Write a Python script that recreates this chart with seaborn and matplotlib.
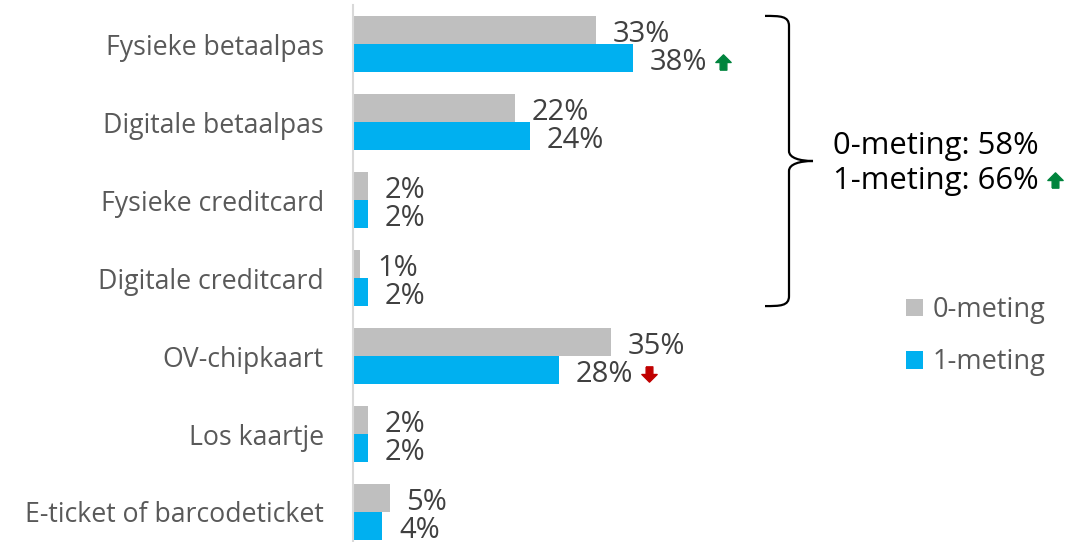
import matplotlib
matplotlib.use("Agg")
import matplotlib.pyplot as plt
import seaborn as sns
import pandas as pd
import numpy as np
from matplotlib.path import Path
from matplotlib.patches import PathPatch
from matplotlib.transforms import offset_copy

categories = ["Fysieke betaalpas", "Digitale betaalpas", "Fysieke creditcard",
              "Digitale creditcard", "OV-chipkaart", "Los kaartje",
              "E-ticket of barcodeticket"]
series_names = ["0-meting", "1-meting"]
meting0 = [33, 22, 2, 1, 35, 2, 5]
meting1 = [38, 24, 2, 2, 28, 2, 4]
# change markers on the 1-meting labels: +1 up, -1 down, 0 none
change1 = [1, 0, 0, 0, -1, 0, 0]
bracket_texts = ["0-meting: 58%", "1-meting: 66%"]
bracket_change = [0, 1]

GRAY = "#BFBFBF"
BLUE = "#00B0F0"
GREEN = "#00843D"
RED = "#C00000"

sns.set_style("white")
plt.rcParams["font.family"] = ["Open Sans", "DejaVu Sans"]

df = pd.DataFrame({
    "categorie": categories * 2,
    "waarde": meting0 + meting1,
    "meting": [series_names[0]] * len(categories) + [series_names[1]] * len(categories),
})

W, H = 1084, 542
fig = plt.figure(figsize=(W / 100, H / 100), dpi=100)
x0 = 353
px_per_pct = 7.36
ax = fig.add_axes([x0 / W, 0, 1 - x0 / W, 1])

sns.barplot(data=df, y="categorie", x="waarde", hue="meting", orient="h",
            palette=[GRAY, BLUE], width=0.72, saturation=1, linewidth=0,
            order=categories, hue_order=series_names, ax=ax)

ax.set_xlim(0, (W - x0) / px_per_pct)
ax.set_ylim(6 + 30 / 78, -44 / 78)
ax.set_xlabel("")
ax.set_ylabel("")
ax.set_xticks([])
for s in ["top", "right", "bottom"]:
    ax.spines[s].set_visible(False)
ax.spines["left"].set_color("#D9D9D9")
ax.spines["left"].set_linewidth(1.5)
ax.spines["left"].set_bounds(-0.5, 6 + 30 / 78)
ax.tick_params(axis="y", length=0, pad=21, labelsize=19.2, labelcolor="#595959")

# value labels
for ci, cont in enumerate(ax.containers[:2]):
    for bi, bar in enumerate(cont.patches):
        v = bar.get_width()
        yc = bar.get_y() + bar.get_height() / 2
        ax.annotate(f"{v:.0f}%", xy=(v, yc), xytext=(12, -3.5),
                    textcoords="offset points", ha="left", va="center",
                    fontsize=21, color="#404040")
        if ci == 1 and change1[bi] != 0:
            up = change1[bi] > 0
            tr = offset_copy(ax.transData, fig=fig, x=90, y=-4, units="dots")
            verts = [(-0.22, -0.5), (0.22, -0.5), (0.22, 0.0), (0.5, 0.0),
                     (0.0, 0.5), (-0.5, 0.0), (-0.22, 0.0), (-0.22, -0.5)]
            if not up:
                verts = [(x, -y) for x, y in verts]
            ax.plot([v], [yc], marker=verts, markersize=11, linestyle="none",
                    color=GREEN if up else RED, transform=tr, clip_on=False)

# curly bracket spanning first four categories
tr_b = ax.get_yaxis_transform()
def ax_x(px):
    return (px - x0) / (W - x0)
ytop = -0.36
ybot = 3.36
ymid = (ytop + ybot) / 2
d = 10 / 78
xl, xv, xp = ax_x(765), ax_x(789), ax_x(813)
verts = [
    (xl, ytop), (ax_x(780), ytop), (xv, ytop), (xv, ytop + d),
    (xv, ymid - d),
    (xv, ymid - 0.3 * d), (ax_x(800), ymid), (xp, ymid),
    (ax_x(800), ymid), (xv, ymid + 0.3 * d), (xv, ymid + d),
    (xv, ybot - d),
    (xv, ybot), (ax_x(780), ybot), (xl, ybot),
]
codes = [Path.MOVETO, Path.CURVE4, Path.CURVE4, Path.CURVE4,
         Path.LINETO,
         Path.CURVE4, Path.CURVE4, Path.CURVE4,
         Path.CURVE4, Path.CURVE4, Path.CURVE4,
         Path.LINETO,
         Path.CURVE4, Path.CURVE4, Path.CURVE4]
ax.add_patch(PathPatch(Path(verts, codes), transform=tr_b, fill=False,
                       edgecolor="black", linewidth=1.6, clip_on=False))

for i, t in enumerate(bracket_texts):
    yy = (146 + 35 * i - 44) / 78
    txt = ax.text(ax_x(833), yy, t, transform=tr_b, ha="left", va="center",
                  fontsize=22.3, color="black")
    if bracket_change[i]:
        up = bracket_change[i] > 0
        vv = [(-0.22, -0.5), (0.22, -0.5), (0.22, 0.0), (0.5, 0.0),
              (0.0, 0.5), (-0.5, 0.0), (-0.22, 0.0), (-0.22, -0.5)]
        if not up:
            vv = [(x, -y) for x, y in vv]
        ax.plot([ax_x(1055)], [yy - 1 / 78], marker=vv, markersize=11,
                linestyle="none", color=GREEN if up else RED,
                transform=tr_b, clip_on=False)

leg = ax.legend(loc="upper left", bbox_to_anchor=(ax_x(906), 1 - 296 / H),
                frameon=False, fontsize=19.5, labelcolor="#595959",
                handlelength=0.62, handleheight=0.62, handletextpad=0.35,
                labelspacing=0.9, borderaxespad=0, borderpad=0)

fig.savefig("out.png", dpi=100)
